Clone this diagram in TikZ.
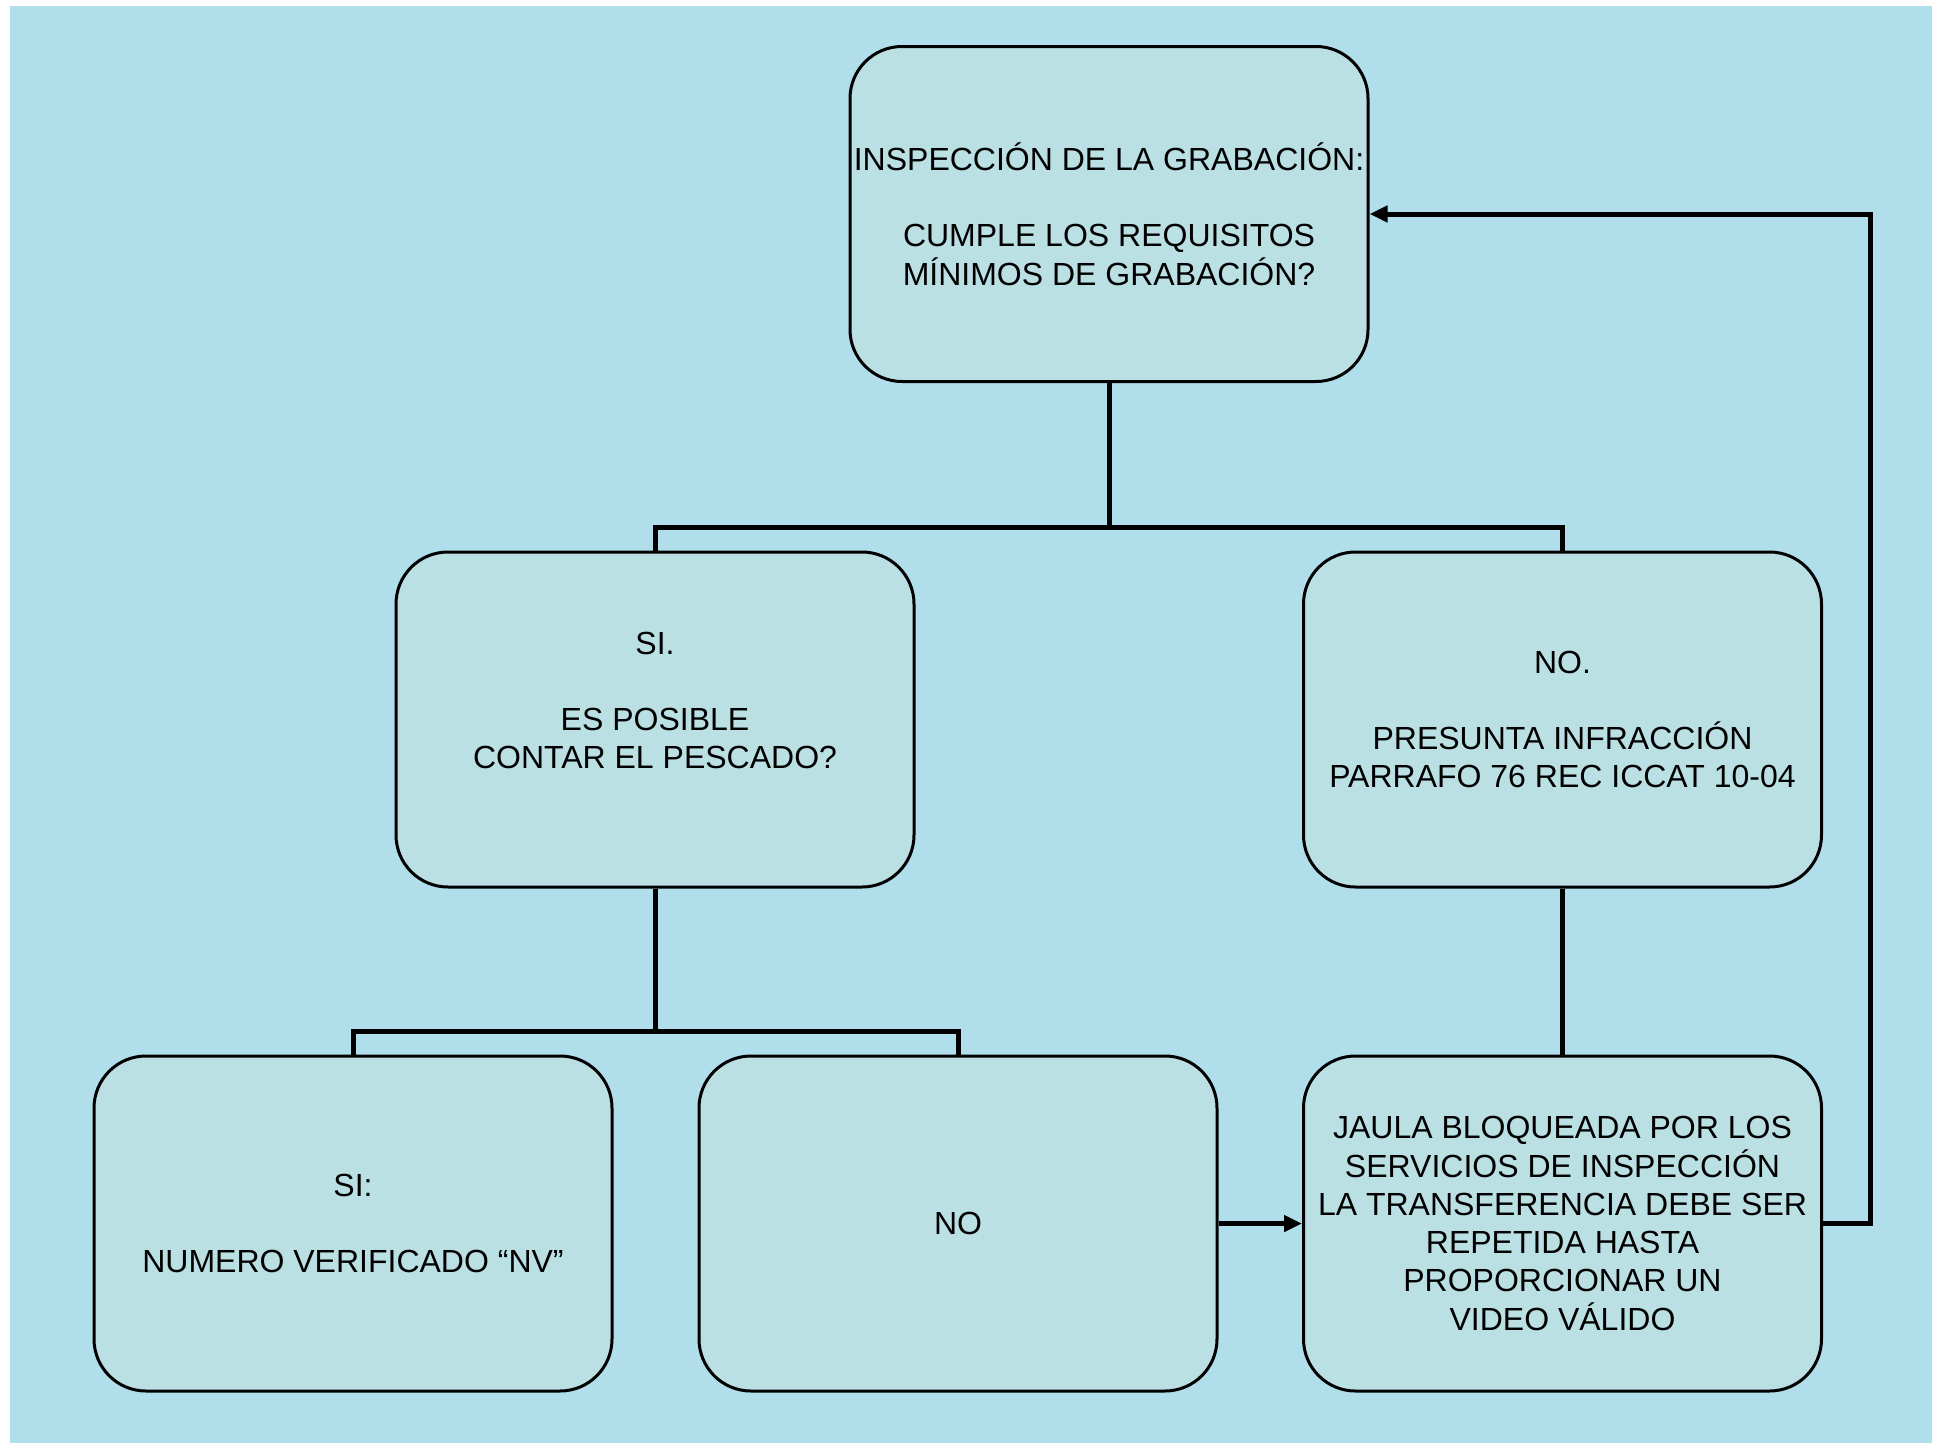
\documentclass[tikz,border=0pt]{standalone}
\usepackage{fontspec}
\setmainfont{Liberation Sans}
\usetikzlibrary{arrows.meta}
\definecolor{bgblue}{RGB}{176,223,235}
\definecolor{boxfill}{RGB}{187,224,228}
\begin{document}
\begin{tikzpicture}[x=1pt,y=-1pt,
  box/.style={draw=black, line width=3pt, fill=boxfill, rounded corners=52pt,
    minimum width=518pt, minimum height=335pt, inner sep=0pt, align=center,
    font=\fontsize{32}{38.3}\selectfont},
  conn/.style={line width=5pt},
  arr/.style={line width=5pt, -{Triangle[length=18pt,width=16pt]}}]
\useasboundingbox (0,0) rectangle (1939,1443);
\fill[bgblue] (10,6) rectangle (1932,1443);
\node[box] (top) at (1109,214) {INSPECCIÓN DE LA GRABACIÓN:\\[38.3pt]CUMPLE LOS REQUISITOS\\MÍNIMOS DE GRABACIÓN?};
\node[box] (si) at (655,719.5) {SI.\\[38.3pt]ES POSIBLE\\CONTAR EL PESCADO?\\ \mbox{}};
\node[box] (no) at (1562.5,719.5) {NO.\\[38.3pt]PRESUNTA INFRACCIÓN\\PARRAFO 76 REC ICCAT 10-04};
\node[box] (sinv) at (353,1223.5) {SI:\\[38.3pt]NUMERO VERIFICADO “NV”};
\node[box] (nomid) at (958,1223.5) {NO};
\node[box] (jaula) at (1562.5,1223.5) {JAULA BLOQUEADA POR LOS\\SERVICIOS DE INSPECCIÓN\\LA TRANSFERENCIA DEBE SER\\REPETIDA HASTA\\PROPORCIONAR UN\\VIDEO VÁLIDO};
\coordinate (j1) at (1109,527);
\coordinate (j2) at (655,1031);
\coordinate (r) at ([xshift=47pt]jaula.east);
\draw[conn] (top.south) -- (j1);
\draw[conn] (si.north) |- (j1) -| (no.north);
\draw[conn] (si.south) -- (j2);
\draw[conn] (sinv.north) |- (j2) -| (nomid.north);
\draw[conn] (no.south) -- (jaula.north);
\draw[arr] (nomid.east) -- (jaula.west);
\draw[arr] (jaula.east) -- (r) |- (top.east);
\end{tikzpicture}
\end{document}
